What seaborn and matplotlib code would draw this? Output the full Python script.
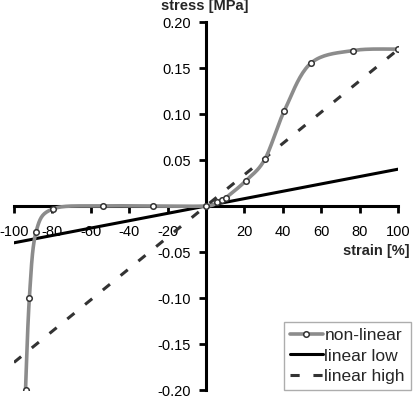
import numpy as np
import matplotlib
matplotlib.use("Agg")
import matplotlib.pyplot as plt
import seaborn as sns
from matplotlib.lines import Line2D

# data
nl_strain = [-94, -92, -88.5, -79.5, -53.5, -27.5, 0, 5.6, 8.2, 10.4, 20.8, 30.7, 40.8, 54.5, 76.7, 100]
nl_stress = [-0.200, -0.100, -0.028, -0.003, 0.000, 0.000, 0.000, 0.004, 0.006, 0.009, 0.0275, 0.051, 0.1035, 0.155, 0.169, 0.1705]
lin_strain = [-100, 100]
low_stress = [-0.04, 0.04]
high_stress = [-0.17, 0.17]
xticks = [-100, -80, -60, -40, -20, 20, 40, 60, 80, 100]
yticks = [-0.20, -0.15, -0.10, -0.05, 0.05, 0.10, 0.15, 0.20]

sns.set_style("white")
plt.rcParams['font.family'] = ['Liberation Sans', 'DejaVu Sans']

def catmull_rom(xs, ys, n=20):
    xs = np.asarray(xs, float); ys = np.asarray(ys, float)
    P = np.column_stack([xs, ys])
    P = np.vstack([P[0], P, P[-1]])
    out = []
    for i in range(1, len(P) - 2):
        p0, p1, p2, p3 = P[i-1], P[i], P[i+1], P[i+2]
        t = np.linspace(0, 1, n, endpoint=False)[:, None]
        seg = 0.5 * ((2*p1) + (-p0 + p2)*t + (2*p0 - 5*p1 + 4*p2 - p3)*t**2 + (-p0 + 3*p1 - 3*p2 + p3)*t**3)
        out.append(seg)
    out.append(P[-2][None, :])
    out = np.vstack(out)
    return out[:, 0], out[:, 1]

fig = plt.figure(figsize=(4.17, 3.98), dpi=100)
ax = fig.add_axes([14/417, 8/398, 384/417, 368/398])

sx, sy = catmull_rom(nl_strain, nl_stress)
sns.lineplot(x=lin_strain, y=high_stress, ax=ax, color='#333333', lw=2.2, zorder=2)
ax.lines[-1].set_dashes([3.0, 4.5])
sns.lineplot(x=lin_strain, y=low_stress, ax=ax, color='black', lw=2.2, zorder=3)
sns.lineplot(x=sx, y=sy, ax=ax, sort=False, estimator=None, color='#8c8c8c', lw=2.6, zorder=4)
sns.scatterplot(x=nl_strain, y=nl_stress, ax=ax, s=16, facecolor='white', edgecolor='#333333', linewidth=1.1, zorder=5)

ax.set_xlim(-100, 100)
ax.set_ylim(-0.2, 0.2)
for s in ['top', 'right']:
    ax.spines[s].set_visible(False)
ax.spines['left'].set_position(('data', 0))
ax.spines['bottom'].set_position(('data', 0))
for s in ['left', 'bottom']:
    ax.spines[s].set_linewidth(2.2)
    ax.spines[s].set_color('black')
ax.set_xticks(xticks)
ax.set_xticklabels([str(v) for v in xticks])
ax.set_yticks(yticks)
ax.set_yticklabels([f"{v:.2f}" for v in yticks])
ax.tick_params(axis='both', direction='out', length=5, width=2, labelsize=10.5, colors='black',
               bottom=True, left=True)
ax.tick_params(axis='x', pad=9)
ax.tick_params(axis='y', pad=6)
ax.set_xlabel(''); ax.set_ylabel('')

fig.text(205/417, 1 - 6/398, 'stress [MPa]', ha='center', va='center', fontsize=10.5, fontweight='bold')
ax.text(106, -0.049, 'strain [%]', ha='right', va='center', fontsize=10.5, fontweight='bold', clip_on=False)

handles = [
    Line2D([], [], color='#8c8c8c', lw=2.6, marker='o', markersize=4, markerfacecolor='white', markeredgecolor='#333333', markeredgewidth=1.1),
    Line2D([], [], color='black', lw=2.2),
    Line2D([], [], color='#333333', lw=2.2, dashes=[3.0, 4.5]),
]
leg = ax.legend(handles, ['non-linear', 'linear low', 'linear high'], loc='lower right',
                bbox_to_anchor=(411/384 - 14/384, -0.0), fontsize=12.5, frameon=True, fancybox=False,
                handlelength=1.9, handletextpad=0.1, borderpad=0.35, labelspacing=0.3,
                borderaxespad=0)
leg.get_frame().set_edgecolor('#999999')
leg.get_frame().set_linewidth(1.0)

fig.savefig('out.png', dpi=100)
